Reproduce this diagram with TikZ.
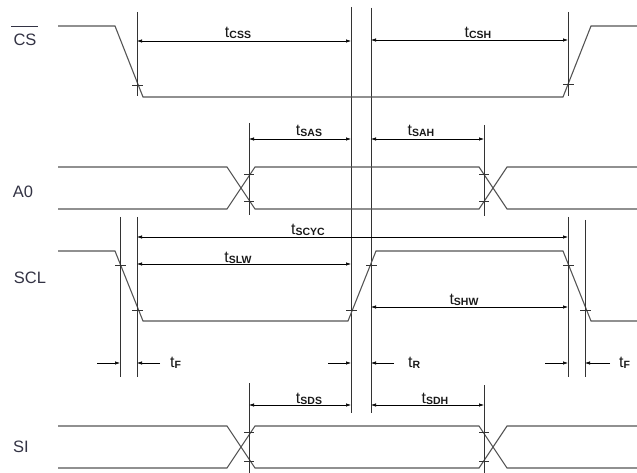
\documentclass[tikz,border=0pt]{standalone}
\usepackage{fontspec}
\setmainfont{Liberation Sans}
\usetikzlibrary{arrows.meta}
\definecolor{sigcol}{HTML}{555555}
\definecolor{vcol}{HTML}{333333}
\definecolor{lblcol}{HTML}{333344}
\newcommand{\tlab}[1]{{\fontsize{16}{16}\selectfont t}\raisebox{-1pt}{\fontsize{10.5}{10.5}\selectfont\bfseries #1}}
\tikzset{
  sig/.style={draw=sigcol, line width=1.1pt},
  vl/.style={draw=vcol, line width=0.8pt},
  tk/.style={draw=vcol, line width=0.7pt},
  dimarr/.style={{Latex[length=5pt,width=3.4pt]}-{Latex[length=5pt,width=3.4pt]}, draw=black, line width=0.6pt},
  onearr/.style={-{Latex[length=5pt,width=3.4pt]}, draw=black, line width=0.6pt},
  sname/.style={font=\fontsize{16.5}{16.5}\selectfont, text=lblcol, inner sep=0pt},
  tname/.style={text=black!90, inner sep=0pt, anchor=base}
}
\begin{document}
\begin{tikzpicture}[x=1pt,y=-1pt]
\useasboundingbox (0,0) rectangle (637,473);
% ---------- signal names ----------
\node[sname] (lcs) at (25,40) {CS};
\draw[line width=0.8pt, lblcol] (11,26) -- (38,26);
\node[sname] (la0) at (23,192) {A0};
\node[sname] (lscl) at (30,278) {SCL};
\node[sname] (lsi) at (21,447) {SI};
% ---------- long vertical lines ----------
\draw[vl] (351,7) -- (351,413);
\draw[vl] (371,8) -- (371,413);
% ---------- CS ----------
\draw[sig] (58,26) -- (115,26) -- (143,97) -- (563,97) -- (591,26) -- (637,26);
\draw[vl] (137,12) -- (137,96);
\draw[vl] (568,12) -- (568,96);
\draw[tk] (132,85) -- (143,85);
\draw[tk] (563,84) -- (574,84);
\draw[dimarr] (137,41) -- (351,41);
\draw[dimarr] (371,40) -- (568,40);
\node[tname] (tcss) at (238,38) {\tlab{CSS}};
\node[tname] (tcsh) at (478,38) {\tlab{CSH}};
% ---------- A0 ----------
\draw[sig] (58,167) -- (227,167) -- (255,209) -- (479,209) -- (507,167) -- (637,167);
\draw[sig] (58,209) -- (227,209) -- (255,167) -- (479,167) -- (507,209) -- (637,209);
\draw[vl] (249,123) -- (249,215);
\draw[vl] (484,125) -- (484,216);
\draw[tk] (244,174) -- (254,174);
\draw[tk] (244,201) -- (254,201);
\draw[tk] (479,174) -- (489,174);
\draw[tk] (479,201) -- (489,201);
\draw[dimarr] (249,139) -- (351,139);
\draw[dimarr] (371,139) -- (484,139);
\node[tname] (tsas) at (309,136) {\tlab{SAS}};
\node[tname] (tsah) at (421,136) {\tlab{SAH}};
% ---------- SCL ----------
\draw[sig] (58,251) -- (115,251) -- (143,321) -- (348,321) -- (376,251) -- (563,251) -- (591,321) -- (637,321);
\draw[vl] (120,217) -- (120,377);
\draw[vl] (137,217) -- (137,377);
\draw[vl] (568,217) -- (568,377);
\draw[vl] (585,220) -- (585,377);
\draw[tk] (115,265) -- (126,265);
\draw[tk] (132,310) -- (143,310);
\draw[tk] (346,310) -- (357,310);
\draw[tk] (366,265) -- (377,265);
\draw[tk] (563,265) -- (574,265);
\draw[tk] (580,310) -- (591,310);
\draw[dimarr] (137,237) -- (568,237);
\draw[dimarr] (137,264) -- (351,264);
\draw[dimarr] (371,307) -- (568,307);
\node[tname] (tscyc) at (308,234) {\tlab{SCYC}};
\node[tname] (tslw) at (238,262) {\tlab{SLW}};
\node[tname] (tshw) at (464,304) {\tlab{SHW}};
% tF / tR arrows
\coordinate (f1a) at (97,363);
\coordinate (f1b) at (160,363);
\coordinate (r1a) at (328,363);
\coordinate (r1b) at (394,363);
\coordinate (f2a) at (545,363);
\coordinate (f2b) at (610,363);
\draw[onearr] (f1a) -- (120,363);
\draw[onearr] (f1b) -- (137,363);
\draw[onearr] (r1a) -- (351,363);
\draw[onearr] (r1b) -- (371,363);
\draw[onearr] (f2a) -- (568,363);
\draw[onearr] (f2b) -- (585,363);
\node[tname, anchor=base west] (tf1) at (170,367) {\tlab{F}};
\node[tname, anchor=base west] (tr1) at (408,367) {\tlab{R}};
\node[tname, anchor=base west] (tf2) at (619,367) {\tlab{F}};
% ---------- SI ----------
\draw[sig] (58,426) -- (227,426) -- (255,468) -- (479,468) -- (507,426) -- (637,426);
\draw[sig] (58,468) -- (227,468) -- (255,426) -- (479,426) -- (507,468) -- (637,468);
\draw[vl] (249,383) -- (249,473);
\draw[vl] (484,385) -- (484,473);
\draw[tk] (244,432) -- (254,432);
\draw[tk] (244,461) -- (254,461);
\draw[tk] (479,432) -- (489,432);
\draw[tk] (479,461) -- (489,461);
\draw[dimarr] (249,405) -- (351,405);
\draw[dimarr] (371,405) -- (484,405);
\node[tname] (tsds) at (309,403) {\tlab{SDS}};
\node[tname] (tsdh) at (435,403) {\tlab{SDH}};
\end{tikzpicture}
\end{document}
